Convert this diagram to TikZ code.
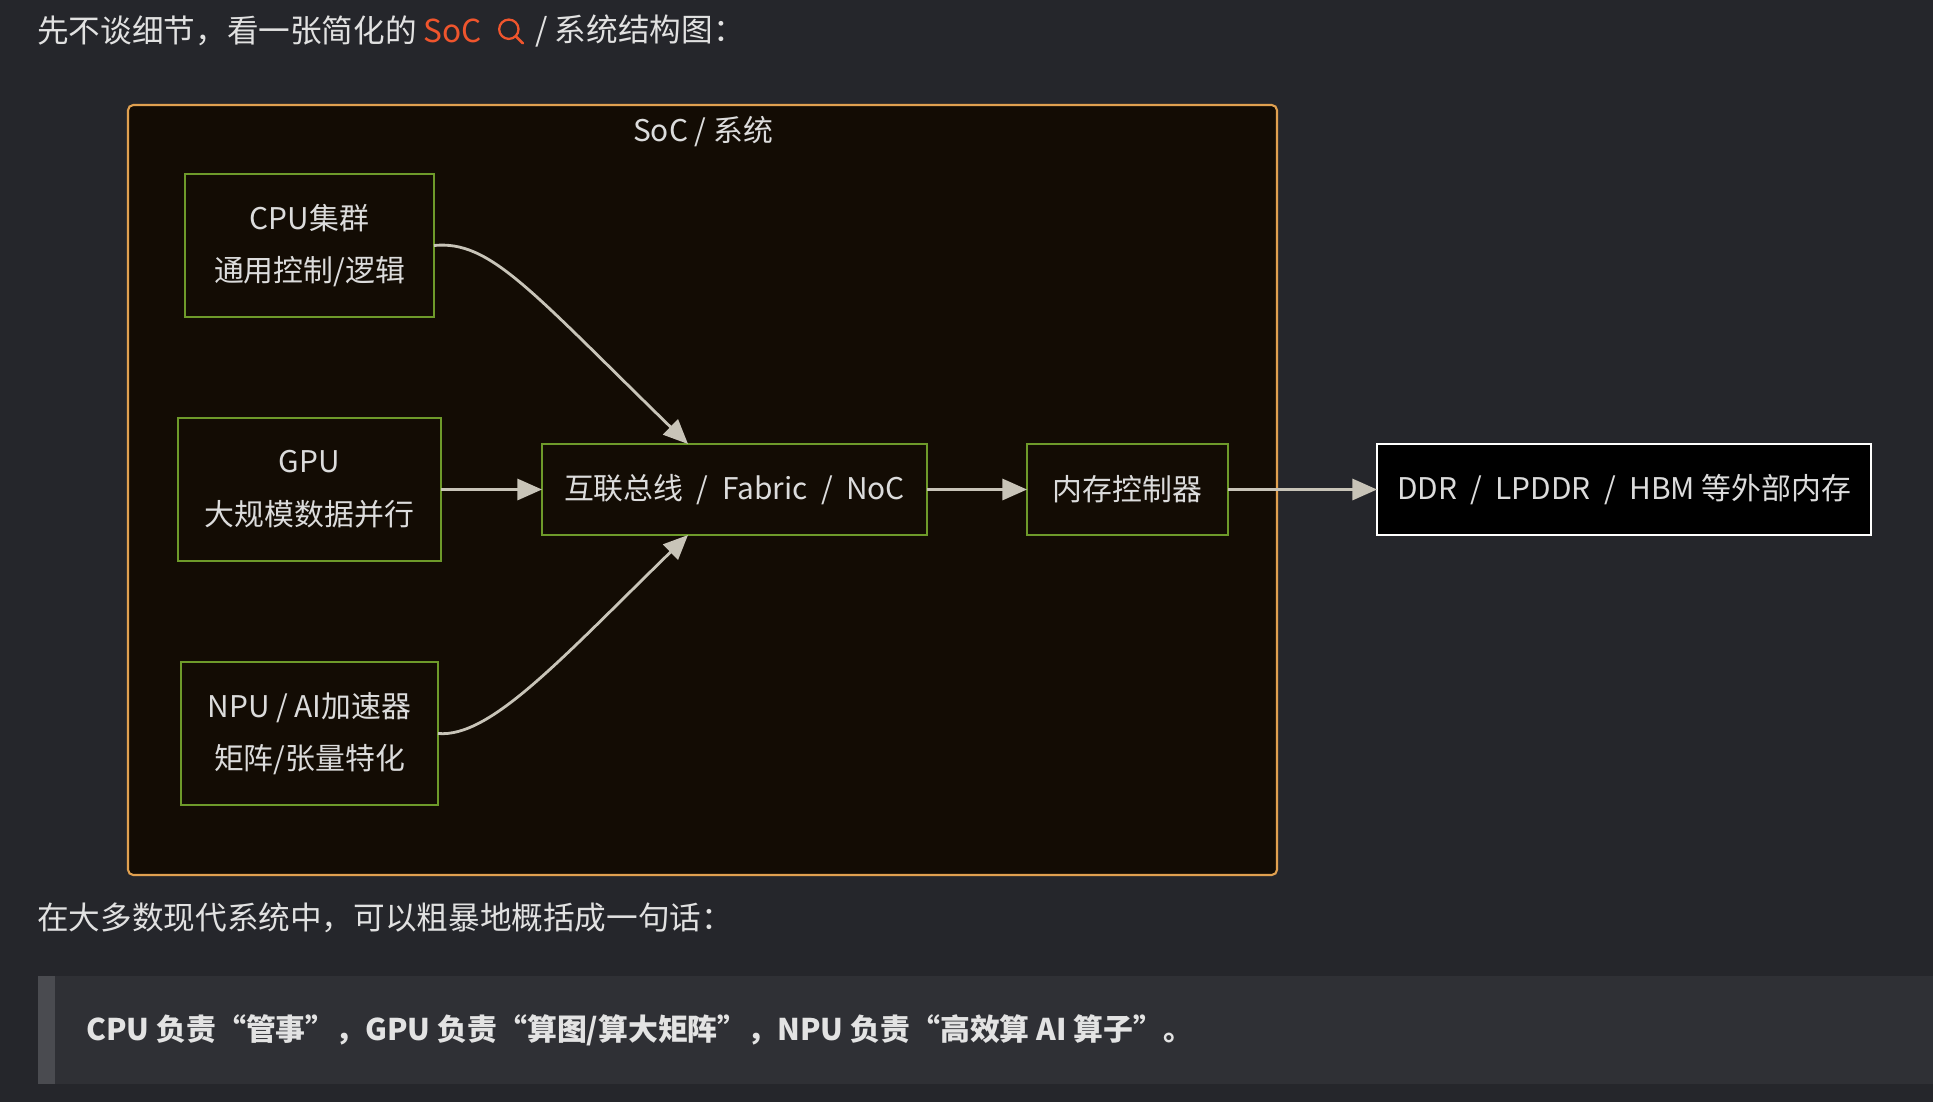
\documentclass[tikz,border=0pt]{standalone}
\usepackage{fontspec}
\setmainfont{Noto Sans CJK SC}
\usetikzlibrary{arrows.meta}
\definecolor{bg}{HTML}{25262B}
\definecolor{soc}{HTML}{130C04}
\definecolor{socb}{HTML}{E0A050}
\definecolor{grn}{HTML}{6E9A2A}
\definecolor{txt}{HTML}{DCDCDC}
\definecolor{arr}{HTML}{C8C4B8}
\definecolor{quote}{HTML}{2F3035}
\definecolor{qbar}{HTML}{4A4B50}
\definecolor{acc}{HTML}{F0552D}
\tikzset{
 box/.style={draw=grn,fill=soc,line width=1.2pt},
 btxt/.style={text=txt,font=\fontsize{17}{30}\selectfont,align=center},
 con/.style={draw=arr,line width=1.6pt,-{Triangle[length=14pt,width=12pt]}},
}
\begin{document}
\begin{tikzpicture}[x=0.02cm,y=-0.02cm]
\fill[bg] (0,0) rectangle (1933,1102);
\useasboundingbox (0,0) rectangle (1933,1102);
\node[anchor=west,text=txt!85,font=\fontsize{18}{22}\selectfont,inner sep=0pt] (top) at (37,31) {先不谈细节，看一张简化的 \textcolor{acc}{SoC}};
\draw[acc,line width=1.3pt] ([xshift=15pt,yshift=1pt]top.east) circle (5.5pt) coordinate (mg);
\draw[acc,line width=1.5pt,line cap=round] ([xshift=19pt,yshift=-3pt]top.east) -- ([xshift=23pt,yshift=-7pt]top.east);
\node[anchor=west,text=txt!85,font=\fontsize{18}{22}\selectfont,inner sep=0pt] (top2) at ([xshift=30pt]top.east) {/ 系统结构图：};
\draw[socb,fill=soc,line width=1.2pt,rounded corners=3pt] (128,105) rectangle (1277,875);
\node[text=txt,font=\fontsize{17}{20}\selectfont] (title) at (703,132) {SoC / 系统};
\draw[box] (185,174) rectangle (434,317);
\node[btxt] (cpu) at (309.5,245.5) {CPU集群\\通用控制/逻辑};
\draw[box] (178,418) rectangle (441,561);
\node[btxt] (gpu) at (309.5,489.5) {GPU\\大规模数据并行};
\draw[box] (181,662) rectangle (438,805);
\node[btxt] (npu) at (309.5,733.5) {NPU / AI加速器\\矩阵/张量特化};
\coordinate (cpuE) at (434,245.5);
\coordinate (gpuE) at (441,489.5);
\coordinate (npuE) at (438,733.5);
\draw[box] (542,444) rectangle (927,535);
\node[text=txt,font=\fontsize{17}{20}\selectfont] (fab) at (734.5,489.5) {互联总线\ \ /\ \ Fabric\ \ /\ \ NoC};
\draw[box] (1027,444) rectangle (1228,535);
\node[text=txt,font=\fontsize{17}{20}\selectfont] (mem) at (1127.5,489.5) {内存控制器};
\draw[white,fill=black,line width=1.2pt] (1377,444) rectangle (1871,535);
\node[text=txt,font=\fontsize{17}{20}\selectfont] (ddr) at (1624,489.5) {DDR\ \ /\ \ LPDDR\ \ /\ \ HBM 等外部内存};
\coordinate (fabT) at (688,444);
\coordinate (fabB) at (688,535);
\coordinate (fabW) at (542,489.5);
\coordinate (fabE) at (927,489.5);
\coordinate (memW) at (1027,489.5);
\coordinate (memE) at (1228,489.5);
\coordinate (ddrW) at (1377,489.5);
\draw[con] (cpuE) .. controls (490,240) and (530,290) .. (fabT);
\draw[con] (npuE) .. controls (490,738) and (560,660) .. (fabB);
\draw[con] (gpuE) -- (fabW);
\draw[con] (fabE) -- (memW);
\draw[con] (memE) -- (ddrW);
\node[anchor=west,text=txt!85,font=\fontsize{18}{22}\selectfont,inner sep=0pt] (mid) at (37,918) {在大多数现代系统中，可以粗暴地概括成一句话：};
\fill[quote] (38,976) rectangle (1933,1084);
\fill[qbar] (38,976) rectangle (55,1084);
\node[anchor=west,text=txt!80,font=\bfseries\fontsize{17}{20}\selectfont,inner sep=0pt] (q) at (86,1030) {CPU 负责“管事”，GPU 负责“算图/算大矩阵”，NPU 负责“高效算 AI 算子”。};
\end{tikzpicture}
\end{document}
